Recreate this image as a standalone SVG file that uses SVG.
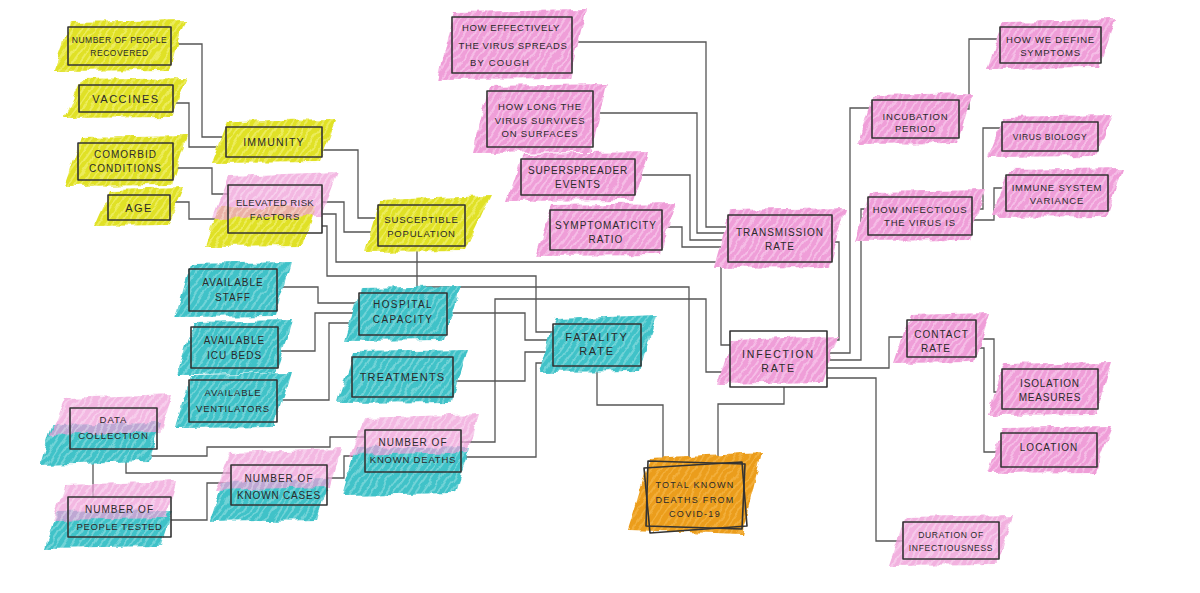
<svg xmlns="http://www.w3.org/2000/svg" width="1200" height="593" viewBox="0 0 1200 593">
<defs>
<pattern id="pY" patternUnits="userSpaceOnUse" width="6" height="6" patternTransform="rotate(35)"><rect width="6" height="6" fill="#ecec5c"/><rect width="4" height="6" fill="#e0e126"/></pattern>
<pattern id="pP" patternUnits="userSpaceOnUse" width="6" height="6" patternTransform="rotate(35)"><rect width="6" height="6" fill="#f5bde6"/><rect width="4" height="6" fill="#ef9ed8"/></pattern>
<pattern id="pC" patternUnits="userSpaceOnUse" width="6" height="6" patternTransform="rotate(35)"><rect width="6" height="6" fill="#72d3d7"/><rect width="4" height="6" fill="#3fc2c8"/></pattern>
<pattern id="pO" patternUnits="userSpaceOnUse" width="6" height="6" patternTransform="rotate(35)"><rect width="6" height="6" fill="#f2ae3a"/><rect width="4" height="6" fill="#eb9d1a"/></pattern>
<filter id="rough" x="-20%" y="-30%" width="140%" height="160%"><feTurbulence type="fractalNoise" baseFrequency="0.07" numOctaves="2" seed="4"/><feDisplacementMap in="SourceGraphic" scale="8" xChannelSelector="R" yChannelSelector="G"/></filter>
</defs>
<style>
.hy{fill:url(#pY);filter:url(#rough)}
.hp{fill:url(#pP);filter:url(#rough)}
.hc{fill:url(#pC);filter:url(#rough)}
.ho{fill:url(#pO);filter:url(#rough)}
.top{opacity:0.72}
.box{fill:none;stroke:#333;stroke-width:1.6;stroke-linejoin:round}
text{font-family:"Liberation Sans",Arial,sans-serif;fill:#2a2a2a;text-anchor:middle;letter-spacing:1px}
.f85{font-size:8.5px;letter-spacing:0.5px}
.f9{font-size:9px;letter-spacing:1.3px}
.f95{font-size:9.5px;letter-spacing:0.8px}
.f10{font-size:10px}
.f105{font-size:10.5px;letter-spacing:1.2px}
.f11{font-size:11px;letter-spacing:1.5px}
#connectors path{fill:none;stroke:#555;stroke-width:1.3}
</style>
<rect width="1200" height="593" fill="#fff"/>

<g id="connectors">
<path d="M171,44 H202 V137 H226"/>
<path d="M173,103 H189 V147 H226"/>
<path d="M173,168 H212 V194 H228"/>
<path d="M170,202 H189 V219 H228"/>
<path d="M322,150 H358 V218 H378"/>
<path d="M322,202 H344 V232 H378"/>
<path d="M322,214 H336 V262 H721 V345 H730"/>
<path d="M322,226 H327 V276 H536 V332 H553"/>
<path d="M417,246 V287 H689 V462"/>
<path d="M461,442 H495 V299 H706 V372 H730"/>
<path d="M461,457 H536 V363 H553"/>
<path d="M447,313 H525 V340 H553"/>
<path d="M453,381 H525 V352 H553"/>
<path d="M597,366 V405 H663 V462"/>
<path d="M784,387 V404 H718 V462"/>
<path d="M277,287 H318 V303 H359"/>
<path d="M278,351 H315 V313 H359"/>
<path d="M277,400 H329 V323 H359"/>
<path d="M148,449 V456 H207 V447 H330 V437 H365"/>
<path d="M126,449 V473 H231"/>
<path d="M93,449 V497"/>
<path d="M171,520 H207 V483 H231"/>
<path d="M327,478 H344 V456 H365"/>
<path d="M572,42 H706 V227 H728"/>
<path d="M593,113 H697 V233 H728"/>
<path d="M635,175 H690 V240 H728"/>
<path d="M662,227 H682 V247 H728"/>
<path d="M832,242 H839 V340 H827"/>
<path d="M827,353 H850 V108 H872"/>
<path d="M827,360 H861 V209 H868"/>
<path d="M827,368 H889 V337 H907"/>
<path d="M827,378 H876 V541 H903"/>
<path d="M959,109 H969 V39 H1000"/>
<path d="M972,209 H983 V128 H1002"/>
<path d="M972,220 H994 V188 H1006"/>
<path d="M976,339 H994 V392 H1002"/>
<path d="M976,348 H984 V452 H1001"/>
</g>

<g id="recovered"><polygon class="hy" points="54,71 70,22 185,20 169,70"/><rect class="box" x="68" y="27" width="103" height="38"/><text class="f85" x="119.5" y="43">NUMBER OF PEOPLE</text><text class="f85" x="119.5" y="56">RECOVERED</text></g>
<g id="vaccines"><polygon class="hy" points="65,118 81,80 187,78 171,117"/><rect class="box" x="79" y="85" width="94" height="27"/><text class="f11" x="126" y="102.5">VACCINES</text></g>
<g id="comorbid"><polygon class="hy" points="64,186 80,138 187,136 171,185"/><rect class="box" x="78" y="143" width="95" height="37"/><text class="f10" x="125.5" y="158">COMORBID</text><text class="f10" x="125.5" y="172">CONDITIONS</text></g>
<g id="age"><polygon class="hy" points="94,226 110,190 184,188 168,225"/><rect class="box" x="108" y="195" width="62" height="25"/><text class="f11" x="139" y="211.5">AGE</text></g>
<g id="immunity"><polygon class="hy" points="212,163 228,122 336,120 320,162"/><rect class="box" x="226" y="127" width="96" height="30"/><text class="f105" x="274" y="146">IMMUNITY</text></g>
<g id="elevated"><polygon class="hy" points="206,246 218,208 316,206 304,245"/><polygon class="hp top" points="212,218 228,176 338,172 322,216"/><rect class="box" x="228" y="185" width="94" height="48"/><text class="f95" x="275" y="206" style="letter-spacing:0.4px">ELEVATED RISK</text><text class="f95" x="275" y="220">FACTORS</text></g>
<g id="susceptible"><polygon class="hy" points="364,252 380,200 490,196 465,251"/><rect class="box" x="378" y="205" width="87" height="41"/><text class="f95" x="421.5" y="222.5">SUSCEPTIBLE</text><text class="f95" x="421.5" y="237">POPULATION</text></g>

<g id="effectively"><polygon class="hp" points="438,79 454,12 586,10 570,78"/><rect class="box" x="452" y="17" width="120" height="56"/><text class="f95" x="511" y="31" style="letter-spacing:0.6px">HOW EFFECTIVELY</text><text class="f95" x="513" y="49" style="letter-spacing:0.6px">THE VIRUS SPREADS</text><text class="f95" x="500" y="66" style="letter-spacing:1.2px">BY COUGH</text></g>
<g id="howlong"><polygon class="hp" points="473,153 489,86 607,84 591,152"/><rect class="box" x="487" y="91" width="106" height="56"/><text class="f95" x="540" y="110">HOW LONG THE</text><text class="f95" x="540" y="123.5">VIRUS SURVIVES</text><text class="f95" x="540" y="137">ON SURFACES</text></g>
<g id="superspreader"><polygon class="hp" points="507,201 523,154 649,152 633,200"/><rect class="box" x="521" y="159" width="114" height="36"/><text class="f10" x="578" y="174" style="letter-spacing:0.8px">SUPERSPREADER</text><text class="f10" x="578" y="187.5">EVENTS</text></g>
<g id="symptomaticity"><polygon class="hp" points="536,256 552,205 676,203 660,255"/><rect class="box" x="550" y="210" width="112" height="40"/><text class="f10" x="606" y="229">SYMPTOMATICITY</text><text class="f10" x="606" y="243">RATIO</text></g>
<g id="transmission"><polygon class="hp" points="714,268 730,210 846,208 830,267"/><rect class="box" x="728" y="215" width="104" height="47"/><text class="f10" x="780" y="236">TRANSMISSION</text><text class="f10" x="780" y="250">RATE</text></g>

<g id="define"><polygon class="hp" points="986,69 1002,22 1115,20 1099,68"/><rect class="box" x="1000" y="27" width="101" height="36"/><text class="f95" x="1050.5" y="43">HOW WE DEFINE</text><text class="f95" x="1050.5" y="56">SYMPTOMS</text></g>
<g id="incubation"><polygon class="hp" points="858,144 874,95 973,93 957,143"/><rect class="box" x="872" y="100" width="87" height="38"/><text class="f95" x="915.5" y="119.5">INCUBATION</text><text class="f95" x="915.5" y="132">PERIOD</text></g>
<g id="biology"><polygon class="hp" points="988,157 1004,117 1112,115 1096,156"/><rect class="box" x="1002" y="122" width="96" height="29"/><text class="f85" x="1050" y="140" style="letter-spacing:0.6px">VIRUS BIOLOGY</text></g>
<g id="immunevar"><polygon class="hp" points="992,217 1008,170 1122,168 1106,216"/><rect class="box" x="1006" y="175" width="102" height="36"/><text class="f95" x="1057" y="190.5">IMMUNE SYSTEM</text><text class="f95" x="1057" y="203.5">VARIANCE</text></g>
<g id="infectious"><polygon class="hp" points="854,241 870,192 986,190 970,240"/><rect class="box" x="868" y="197" width="104" height="38"/><text class="f95" x="920" y="212.5">HOW INFECTIOUS</text><text class="f95" x="920" y="226">THE VIRUS IS</text></g>

<g id="staff"><polygon class="hc" points="175,317 191,264 291,262 275,316"/><rect class="box" x="189" y="269" width="88" height="42"/><text class="f10" x="233" y="286">AVAILABLE</text><text class="f10" x="233" y="301">STAFF</text></g>
<g id="icu"><polygon class="hc" points="177,374 193,322 292,320 276,373"/><rect class="box" x="191" y="327" width="87" height="41"/><text class="f10" x="234.5" y="344">AVAILABLE</text><text class="f10" x="234.5" y="359">ICU BEDS</text></g>
<g id="ventilators"><polygon class="hc" points="175,428 191,375 291,373 275,427"/><rect class="box" x="189" y="380" width="88" height="42"/><text class="f95" x="233" y="396">AVAILABLE</text><text class="f95" x="233" y="412">VENTILATORS</text></g>
<g id="hospital"><polygon class="hc" points="345,341 361,288 461,286 445,340"/><rect class="box" x="359" y="293" width="88" height="42"/><text class="f10" x="403" y="308" style="letter-spacing:1.4px">HOSPITAL</text><text class="f10" x="403" y="323" style="letter-spacing:1.4px">CAPACITY</text></g>
<g id="treatments"><polygon class="hc" points="338,403 354,352 467,350 451,402"/><rect class="box" x="352" y="357" width="101" height="40"/><text class="f11" x="402.5" y="381" style="letter-spacing:1.2px">TREATMENTS</text></g>
<g id="fatality"><polygon class="hc" points="539,372 555,319 657,315 639,371"/><rect class="box" x="553" y="324" width="88" height="42"/><text class="f11" x="597" y="341" style="letter-spacing:1.8px">FATALITY</text><text class="f11" x="597" y="355" style="letter-spacing:1.8px">RATE</text></g>
<g id="infection"><polygon class="hp" points="718,384 732,340 838,336 822,382"/><rect class="box" x="730" y="331" width="97" height="56"/><text class="f105" x="778.5" y="358" style="letter-spacing:1.8px">INFECTION</text><text class="f105" x="778.5" y="372" style="letter-spacing:1.8px">RATE</text></g>

<g id="contact"><polygon class="hp" points="893,363 909,315 990,313 974,362"/><rect class="box" x="907" y="320" width="69" height="37"/><text class="f10" x="941.5" y="338">CONTACT</text><text class="f10" x="936" y="352">RATE</text></g>
<g id="isolation"><polygon class="hp" points="988,415 1004,364 1112,362 1096,414"/><rect class="box" x="1002" y="369" width="96" height="40"/><text class="f10" x="1050" y="387" style="letter-spacing:0.8px">ISOLATION</text><text class="f10" x="1050" y="401" style="letter-spacing:0.8px">MEASURES</text></g>
<g id="location"><polygon class="hp" points="987,473 1003,428 1111,426 1095,472"/><rect class="box" x="1001" y="433" width="96" height="34"/><text class="f10" x="1049" y="451">LOCATION</text></g>
<g id="duration"><polygon class="hp" points="889,565 905,517 1013,515 997,564" opacity="0.8"/><rect class="box" x="903" y="522" width="96" height="37"/><text class="f85" x="951" y="538" style="letter-spacing:0.7px">DURATION OF</text><text class="f85" x="951" y="551" style="letter-spacing:0.7px">INFECTIOUSNESS</text></g>

<g id="datacollection"><polygon class="hc" points="40,465 52,425 160,423 148,462"/><polygon class="hp top" points="50,435 66,398 172,394 160,432"/><rect class="box" x="70" y="408" width="87" height="41"/><text class="f95" x="113.5" y="423" style="letter-spacing:1px">DATA</text><text class="f95" x="113.5" y="439" style="letter-spacing:1px">COLLECTION</text></g>
<g id="tested"><polygon class="hc" points="45,548 56,512 172,510 160,546"/><polygon class="hp top" points="52,520 66,485 176,481 166,518"/><rect class="box" x="68" y="497" width="103" height="40"/><text class="f10" x="119.5" y="513">NUMBER OF</text><text class="f95" x="119.5" y="530" style="letter-spacing:0.6px">PEOPLE TESTED</text></g>
<g id="knowncases"><polygon class="hc" points="210,522 222,482 330,480 318,520"/><polygon class="hp top" points="216,490 230,453 340,449 330,487"/><rect class="box" x="231" y="465" width="96" height="40"/><text class="f10" x="279" y="482">NUMBER OF</text><text class="f10" x="279" y="499" style="letter-spacing:0.8px">KNOWN CASES</text></g>
<g id="knowndeaths"><polygon class="hc" points="342,495 356,448 470,446 456,493"/><polygon class="hp top" points="350,455 364,418 478,414 468,452"/><rect class="box" x="365" y="430" width="96" height="42"/><text class="f10" x="413" y="446">NUMBER OF</text><text class="f95" x="413" y="463">KNOWN DEATHS</text></g>

<g id="totaldeaths"><polygon class="ho" points="628,530 650,458 762,452 742,534"/><polygon class="box" points="644,468 742,462 747,526 650,533"/><polygon class="box" points="648,461 745,464 742,529 646,526"/><text class="f9" x="695" y="487.5">TOTAL KNOWN</text><text class="f9" x="695" y="502.5">DEATHS FROM</text><text class="f9" x="695" y="516.5">COVID-19</text></g>
</svg>
